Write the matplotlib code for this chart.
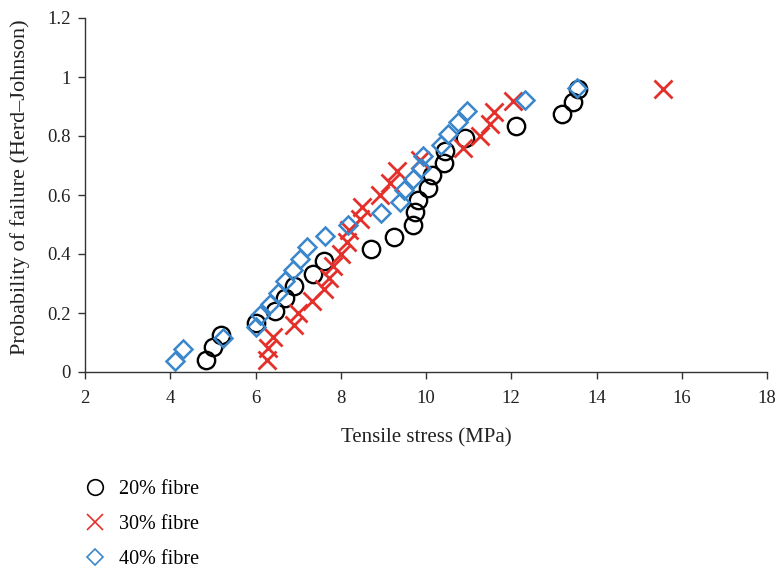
import matplotlib
matplotlib.use("Agg")
import matplotlib.pyplot as plt
import numpy as np
from matplotlib.ticker import FuncFormatter

# Data (tensile stress, MPa) — probabilities are Herd–Johnson i/(n+1)
stress_20 = [4.85, 5.0, 5.2, 6.0, 6.45, 6.7, 6.9, 7.35, 7.6, 8.7, 9.25, 9.7,
             9.75, 9.82, 10.05, 10.15, 10.42, 10.45, 10.92, 12.1, 13.2, 13.45, 13.57]
stress_30 = [6.27, 6.3, 6.42, 6.9, 7.0, 7.32, 7.6, 7.72, 7.82, 8.0, 8.15, 8.2,
             8.46, 8.5, 8.93, 9.16, 9.32, 9.86, 10.87, 11.27, 11.5, 11.6, 12.05, 15.55]
stress_40 = [4.1, 4.3, 5.24, 6.0, 6.1, 6.35, 6.53, 6.7, 6.88, 7.05, 7.2, 7.63,
             8.17, 8.95, 9.4, 9.48, 9.7, 9.88, 9.93, 10.35, 10.52, 10.75, 10.96, 12.33, 13.55]

def herd_johnson(xs):
    n = len(xs)
    return [i / (n + 1) for i in range(1, n + 1)]

prob_20 = herd_johnson(stress_20)
prob_30 = herd_johnson(stress_30)
prob_40 = herd_johnson(stress_40)

labels = ["20% fibre", "30% fibre", "40% fibre"]
x_ticks = [2, 4, 6, 8, 10, 12, 14, 16, 18]
y_ticks = [0, 0.2, 0.4, 0.6, 0.8, 1.0, 1.2]

plt.rcParams['font.family'] = ['Liberation Serif', 'DejaVu Serif']

fig = plt.figure(figsize=(7.8, 5.7), dpi=100)
ax = fig.add_axes([85/780, 1 - 372/570, (767-85)/780, (372-18)/570])

h1, = ax.plot(stress_20, prob_20, linestyle='none', marker='o', markersize=12.5,
              markerfacecolor='none', markeredgecolor='black', markeredgewidth=1.7,
              label=labels[0])
h2, = ax.plot(stress_30, prob_30, linestyle='none', marker='x', markersize=13,
              color='#e4302b', markeredgewidth=2.0, label=labels[1])
h3, = ax.plot(stress_40, prob_40, linestyle='none', marker='D', markersize=9.5,
              markerfacecolor='none', markeredgecolor='#3a87cc', markeredgewidth=1.8,
              label=labels[2])

ax.set_xlim(2, 18)
ax.set_ylim(0, 1.2)
ax.set_xticks(x_ticks)
ax.set_yticks(y_ticks)
ax.yaxis.set_major_formatter(FuncFormatter(lambda v, p: f"{v:g}"))
for s in ['top', 'right']:
    ax.spines[s].set_visible(False)
for s in ['left', 'bottom']:
    ax.spines[s].set_color('#333333')
    ax.spines[s].set_linewidth(1.0)
ax.tick_params(direction='out', length=5, width=1.0, color='#333333',
               labelsize=13.5, labelcolor='#222222')
ax.tick_params(axis='x', pad=8)
ax.tick_params(axis='y', pad=5)
ax.set_xlabel("Tensile stress (MPa)", fontsize=15, color='#222222')
ax.set_ylabel("Probability of failure (Herd–Johnson)", fontsize=16, color='#222222')
ax.xaxis.set_label_coords(0.5, (372 - 428) / 354)
ax.yaxis.set_label_coords((30 - 85) / 682, (372 - 187) / 354)

leg = fig.legend(handles=[h1, h2, h3], labels=labels, loc='upper left',
                 bbox_to_anchor=(65/780, 1 - 462/570), frameon=False,
                 fontsize=14.5, handlelength=1.2, handletextpad=0.6,
                 labelspacing=0.78)
for lh, ms in zip(leg.legend_handles, [12.5, 13, 9.5]):
    lh.set_markersize(ms * 0.9)
    lh.set_markeredgewidth(1.2)

fig.savefig("out.png", dpi=100)
